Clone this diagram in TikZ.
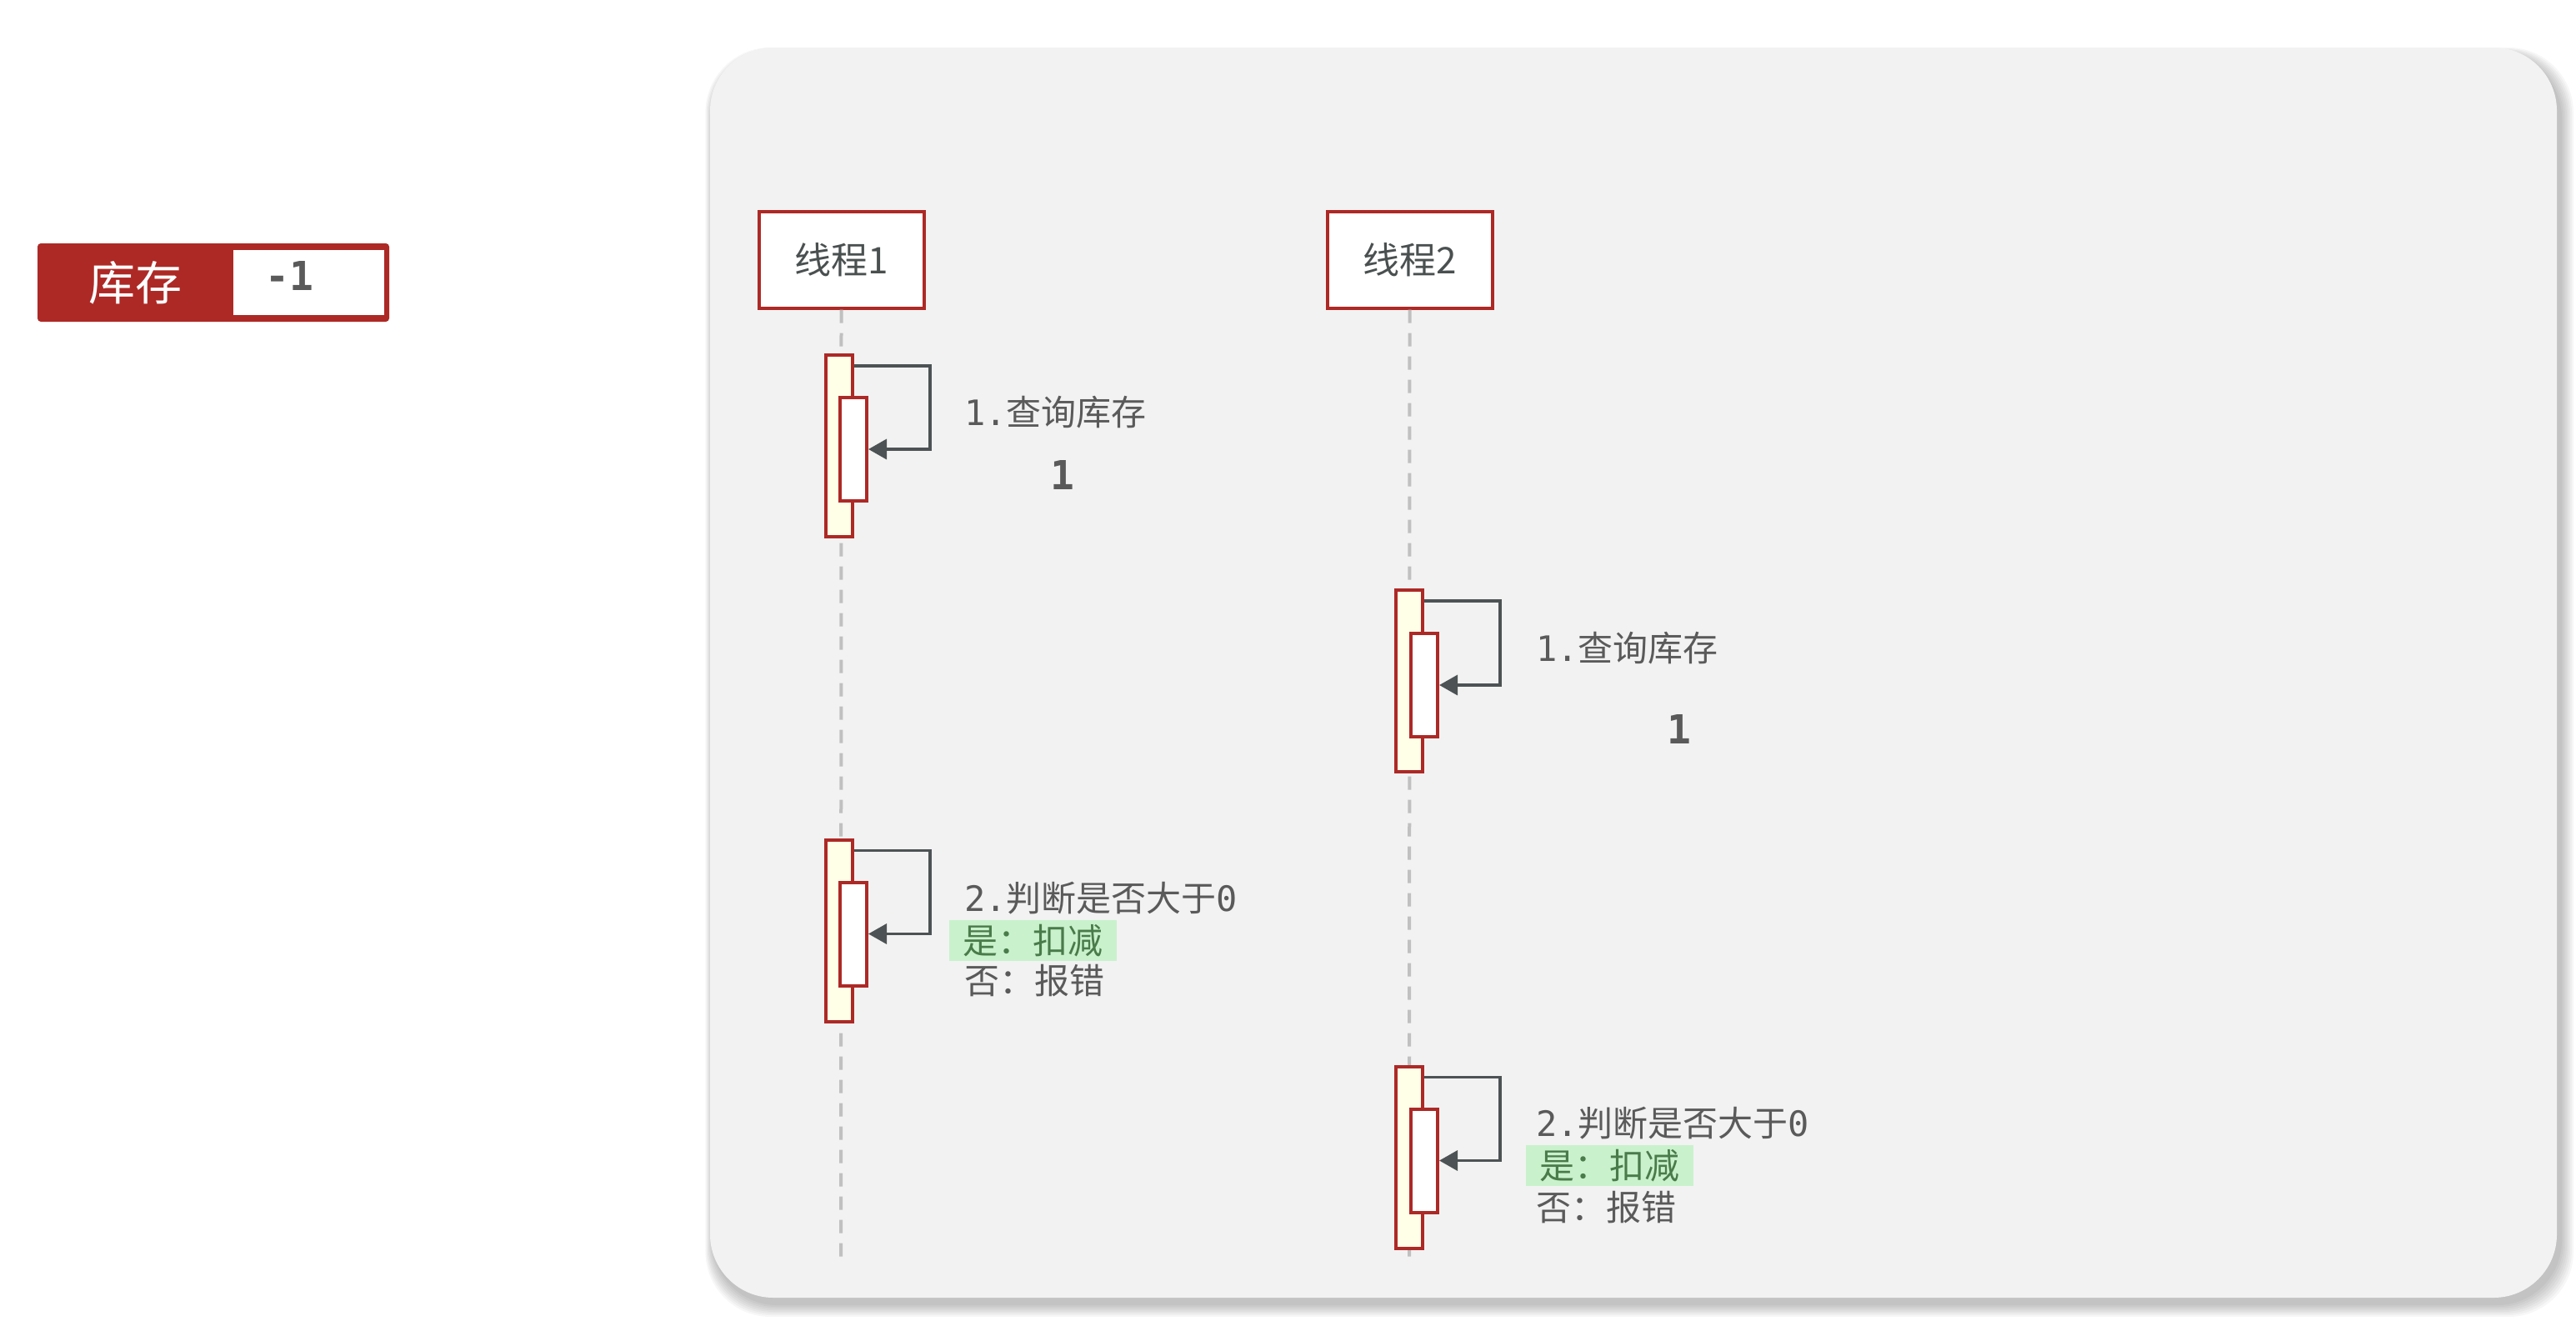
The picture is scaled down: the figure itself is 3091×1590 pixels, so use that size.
\documentclass[tikz,border=0pt]{standalone}
\usepackage{fontspec}
\setmainfont{Noto Sans CJK SC}
\newfontfamily\monofont{DejaVu Sans Mono}
\usetikzlibrary{arrows.meta,calc}
\definecolor{redb}{HTML}{AD2926}
\definecolor{panelbg}{HTML}{F2F2F2}
\definecolor{txt}{HTML}{5A5A5A}
\definecolor{ttl}{HTML}{4A5050}
\definecolor{arr}{HTML}{4D5354}
\definecolor{dashc}{HTML}{C0C0C0}
\definecolor{actfill}{HTML}{FFFFE8}
\definecolor{hl}{HTML}{C9F2CC}
\definecolor{gtxt}{HTML}{4A7B4A}
\tikzset{
  threadbox/.style={draw=redb, line width=4pt, fill=white, minimum width=198pt, minimum height=116pt, inner sep=0pt, font=\fontsize{44}{50}\selectfont, text=ttl},
  outerbar/.style={draw=redb, line width=4pt, fill=actfill, minimum width=32pt, minimum height=218pt, inner sep=0pt},
  innerbar/.style={draw=redb, line width=4pt, fill=white, minimum width=32pt, minimum height=124pt, inner sep=0pt},
  lifeline/.style={dashc, line width=4pt, dash pattern=on 16pt off 12pt},
  selfarrow/.style={arr, line width=3.5pt, -{Triangle[length=22pt,width=24pt]}},
  lbl/.style={anchor=west, text=txt, font=\fontsize{42}{50}\selectfont, inner sep=0pt},
  hlbox/.style={fill=hl, text=gtxt, font=\fontsize{42}{50}\selectfont, inner sep=0pt, minimum width=201pt, minimum height=49pt},
  bignum/.style={text=txt, font=\fontsize{48}{50}\monofont\bfseries, inner sep=0pt},
}
\begin{document}
\begin{tikzpicture}[x=1pt,y=-1pt]
\useasboundingbox[fill=white] (0,0) rectangle (3091,1590);
% panel shadow
\foreach \e in {2,4,...,16} {
  \fill[black,opacity=0.03,rounded corners=78pt] (852+4-0.6*\e,57+8-0.5*\e) rectangle (3068+4+\e,1557+7+\e);
}
\fill[panelbg,rounded corners=76pt] (852,57) rectangle (3068,1557);
% badge
\node[fill=redb, rounded corners=4pt, minimum width=422pt, minimum height=94pt, inner sep=0pt] (badge) at (256,339) {};
\node[fill=white, minimum width=181pt, minimum height=78pt, inner sep=0pt] (badgeval) at (370.5,339) {};
\node[text=white, font=\fontsize{56}{60}\selectfont, inner sep=0pt] (badgetxt) at (162.5,339.5) {库存};
\node[text=txt, font=\fontsize{48}{50}\monofont\bfseries, inner sep=0pt] (badgenum) at (347,331) {-1};
% thread boxes
\node[threadbox] (t1) at (1009.5,311.5) {线程1};
\node[threadbox] (t2) at (1691.5,311.5) {线程2};
\coordinate (e1) at (1009,1508);
\coordinate (e2) at (1691,1508);
\draw[lifeline] (t1.south) -- (e1);
\draw[lifeline] (t2.south) -- (e2);
% activations thread 1
\node[outerbar] (o11) at (1007,535) {};
\node[innerbar] (i11) at (1024,539) {};
\node[outerbar] (o12) at (1007,1116.5) {};
\node[innerbar] (i12) at (1024,1120.5) {};
% activations thread 2
\node[outerbar] (o21) at (1691,817) {};
\node[innerbar] (i21) at (1709,822) {};
\node[outerbar] (o22) at (1691,1388.5) {};
\node[innerbar] (i22) at (1709,1392.5) {};
% self arrows
\draw[selfarrow] ($(o11.north east)+(0,15)$) -- ++(91,0) |- (i11.east);
\draw[selfarrow] ($(o12.north east)+(0,15)$) -- ++(91,0) |- (i12.east);
\draw[selfarrow] ($(o21.north east)+(0,15)$) -- ++(91,0) |- (i21.east);
\draw[selfarrow] ($(o22.north east)+(0,15)$) -- ++(91,0) |- (i22.east);
% labels thread 1
\node[lbl] (l11) at (1157,495) {{\monofont 1.}查询库存};
\node[bignum] (n11) at (1275,570) {1};
\node[lbl] (l12) at (1157,1078) {{\monofont 2.}判断是否大于{\monofont 0}};
\node[hlbox] (h12) at (1239.5,1128.5) {是：扣减};
\node[lbl] (m12) at (1157,1177) {否：报错};
% labels thread 2
\node[lbl] (l21) at (1843,778) {{\monofont 1.}查询库存};
\node[bignum] (n21) at (2015,875) {1};
\node[lbl] (l22) at (1843,1348) {{\monofont 2.}判断是否大于{\monofont 0}};
\node[hlbox] (h22) at (1931.5,1398.5) {是：扣减};
\node[lbl] (m22) at (1843,1449) {否：报错};
\end{tikzpicture}
\end{document}
